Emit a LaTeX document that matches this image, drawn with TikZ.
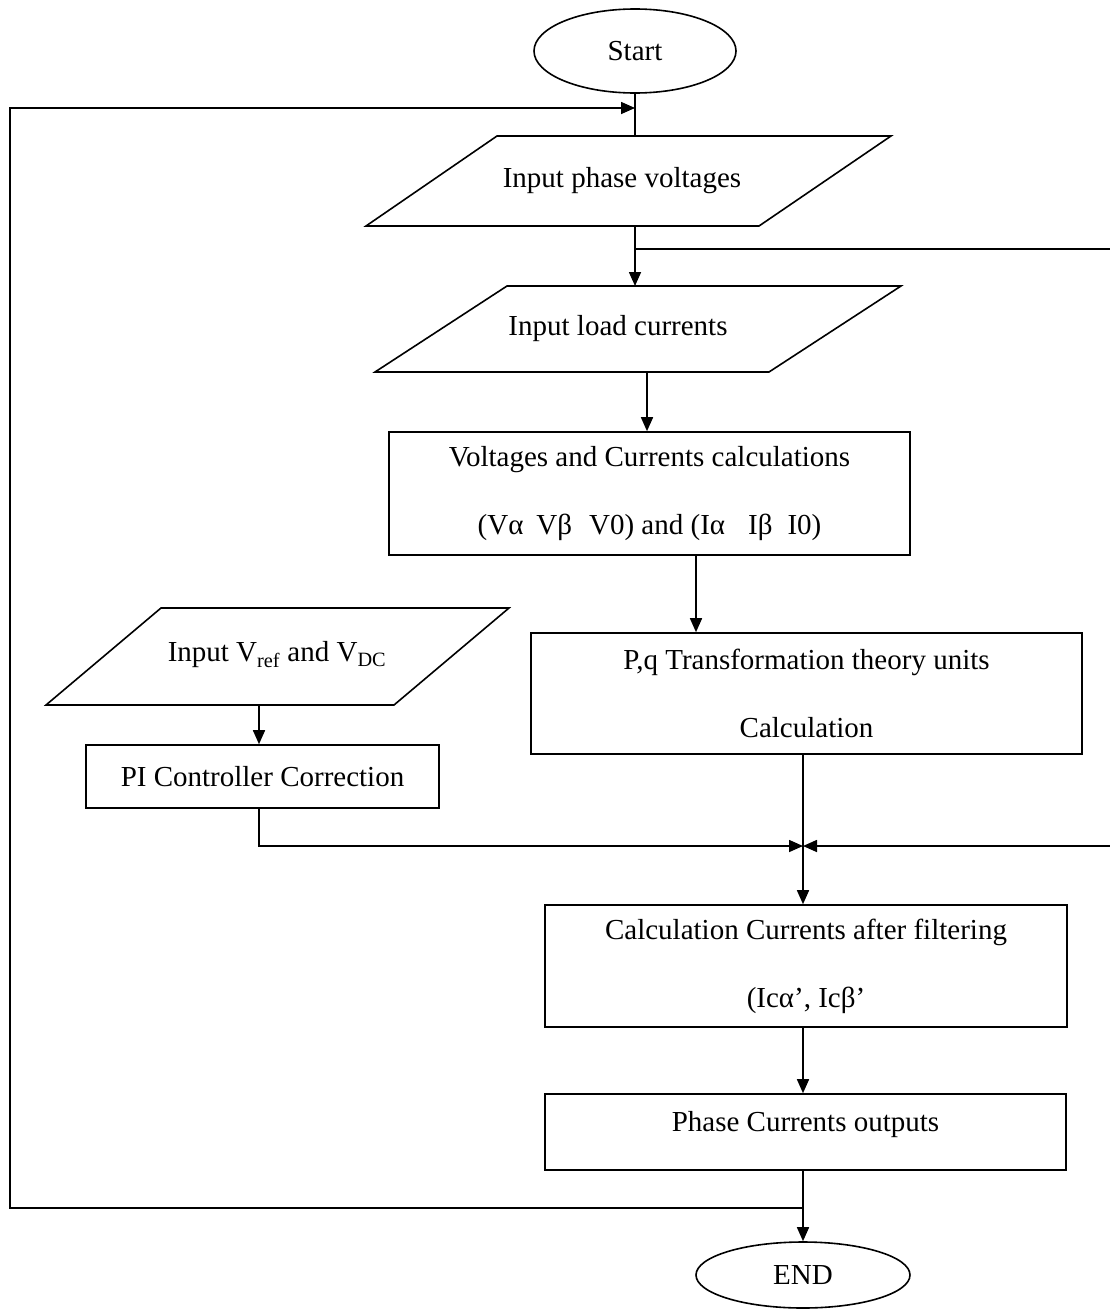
\documentclass[tikz,border=0pt]{standalone}
\usepackage{fontspec}
\setmainfont{Liberation Serif}
\usetikzlibrary{arrows.meta,shapes.geometric}
\begin{document}
\begin{tikzpicture}[x=1pt,y=-1pt,line width=1.6pt,
  every node/.style={font=\fontsize{29}{68}\selectfont},
  procbox/.style={draw,rectangle,inner sep=0pt,align=center},
  term/.style={draw,ellipse,inner sep=0pt},
  plain/.style={inner sep=0pt,align=center},
  arr/.style={-{Triangle[length=14pt,width=12pt]}}]
\useasboundingbox (0,0) rectangle (1110,1309);

% terminals
\node[term,minimum width=202pt,minimum height=84pt] (start) at (635,51) {Start};
\node[term,minimum width=214pt,minimum height=66pt] (endn) at (803,1275) {END};

% parallelograms (input)
\draw (497,136) -- (891,136) -- (759,226) -- (366,226) -- cycle;
\node[plain] (p1) at (622,181) {Input phase voltages};
\coordinate (p1t) at (635,136);
\coordinate (p1b) at (635,226);

\draw (507,286) -- (901,286) -- (769,372) -- (375,372) -- cycle;
\node[plain] (p2) at (618,329) {Input load currents};
\coordinate (p2t) at (635,286);
\coordinate (p2b) at (647,372);

\draw (161,608) -- (509,608) -- (394,705) -- (46,705) -- cycle;
\node[plain] (p3) at (277,655) {Input V\textsubscript{ref} and V\textsubscript{DC}};
\coordinate (p3b) at (259,705);

% process boxes
\node[procbox,minimum width=521pt,minimum height=123pt] (vc) at (649.5,493.5)
  {Voltages and Currents calculations\\
   (Vα\hspace{13pt}Vβ\hspace{17pt}V0) and (Iα\hspace{23pt}Iβ\hspace{15pt}I0)};
\node[procbox,minimum width=551pt,minimum height=121pt] (pq) at (806.5,693.5)
  {P,q Transformation theory units\\Calculation};
\node[procbox,minimum width=353pt,minimum height=63pt] (pi) at (262.5,776.5)
  {PI Controller Correction};
\node[procbox,minimum width=522pt,minimum height=122pt] (calc) at (806,966)
  {Calculation Currents after filtering\\(Icα’, Icβ’};
\node[procbox,minimum width=521pt,minimum height=76pt,text depth=22pt] (ph) at (805.5,1132)
  {Phase Currents outputs};

% junction coordinates
\coordinate (jt) at (635,108);
\coordinate (lt) at (10,108);
\coordinate (lb) at (10,1208);
\coordinate (jb) at (803,1208);
\coordinate (jr) at (635,249);
\coordinate (re) at (1110,249);
\coordinate (jm) at (803,846);
\coordinate (rm) at (1110,846);
\coordinate (vx) at (696,0);

% connectors
\draw (start.south -| p1t) -- (p1t);
\draw[arr] (jb) -- (lb) -- (lt) -- (jt);
\draw[arr] (p1b) -- (p2t);
\draw (jr) -- (re);
\draw[arr] (p2b) -- (p2b |- vc.north);
\draw[arr] (vc.south -| vx) -- (pq.north -| vx);
\draw[arr] (p3b) -- (p3b |- pi.north);
\draw[arr] (pi.south -| p3b) |- (jm);
\draw[arr] (rm) -- (jm);
\draw[arr] (pq.south -| jm) -- (calc.north -| jm);
\draw[arr] (calc.south -| jm) -- (ph.north -| jm);
\draw[arr] (ph.south -| jm) -- (endn.north -| jm);
\end{tikzpicture}
\end{document}
